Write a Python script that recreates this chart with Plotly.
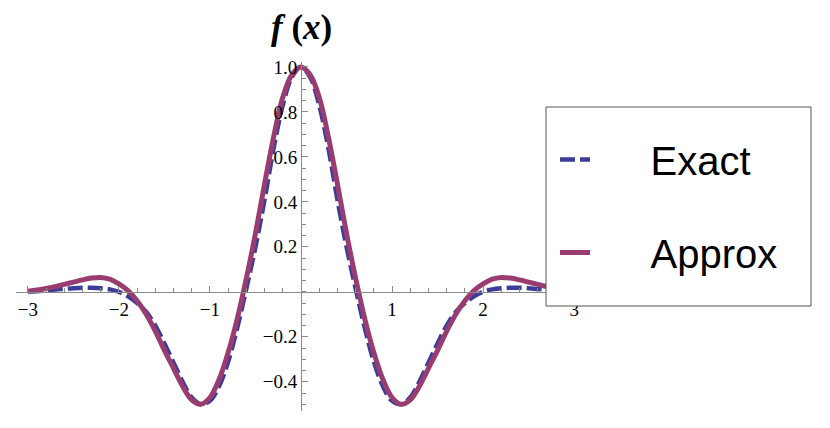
import plotly.graph_objects as go

# sample points
x_vals = [round(-3 + 0.1 * i, 1) for i in range(61)]

exact_right = [1.0, 0.955, 0.83, 0.64, 0.41, 0.20, 0.015, -0.16, -0.31, -0.42,
               -0.485, -0.5, -0.47, -0.40, -0.315, -0.23, -0.15, -0.09, -0.05, -0.02,
               0.0, 0.011, 0.016, 0.018, 0.018, 0.016, 0.013, 0.01, 0.006, 0.003, 0.001]
approx_right = [1.0, 0.965, 0.865, 0.69, 0.48, 0.26, 0.06, -0.12, -0.27, -0.39,
                -0.47, -0.5, -0.48, -0.42, -0.34, -0.26, -0.175, -0.10, -0.04, 0.005,
                0.035, 0.056, 0.064, 0.061, 0.053, 0.043, 0.033, 0.023, 0.015, 0.008, 0.003]

exact_vals = exact_right[:0:-1] + exact_right
approx_vals = approx_right[:0:-1] + approx_right

x_ticks = [-3, -2, -1, 1, 2, 3]
y_ticks = [-0.4, -0.2, 0.2, 0.4, 0.6, 0.8, 1.0]

# the page body adds an 8px margin around the figure
OFF = 8
W, H = 830 - OFF, 428 - OFF
# plot area in screen pixels: x 16..586, y 62..411
L, R, T, B = 16 - OFF, 830 - 586, 62 - OFF, 428 - 411
x_range = [-3.13, 3.13]
y_range = [-0.53, 1.022]


def paper_x(px):
    return (px - OFF - L) / (W - L - R)


def paper_y(py):
    return 1 - (py - OFF - T) / (H - T - B)


pad = '\u00a0' * 5

fig = go.Figure()
fig.add_trace(go.Scatter(
    x=x_vals, y=exact_vals, mode='lines', name=pad + 'Exact',
    line=dict(color='#3d3d99', width=4.5, dash='15px,5px', shape='spline'),
    legendgroup='a'
))
fig.add_trace(go.Scatter(
    x=x_vals, y=approx_vals, mode='lines', name=pad + 'Approx',
    line=dict(color='#993d70', width=5, shape='spline'),
    legendgroup='b'
))

serif = 'Liberation Serif, Times New Roman, serif'
axis_font = dict(family=serif, size=19, color='black')
fig.update_layout(
    width=W, height=H,
    font=dict(family=serif, color='black'),
    margin=dict(l=L, r=R, t=T, b=B, autoexpand=False),
    plot_bgcolor='white', paper_bgcolor='white',
    xaxis=dict(
        range=x_range, anchor='free',
        position=(0 - y_range[0]) / (y_range[1] - y_range[0]),
        showgrid=False, zeroline=False, showline=True,
        linecolor='#8a8a8a', linewidth=1,
        ticks='inside', ticklen=6, tickcolor='#8a8a8a',
        tickvals=x_ticks, ticktext=[str(v).replace('-', '\u2212') for v in x_ticks],
        tickfont=axis_font,
        minor=dict(dtick=0.2, ticks='inside', ticklen=3.5, tickcolor='#8a8a8a', showgrid=False)
    ),
    yaxis=dict(
        range=y_range, anchor='free',
        position=(0 - x_range[0]) / (x_range[1] - x_range[0]),
        showgrid=False, zeroline=False, showline=True,
        linecolor='#8a8a8a', linewidth=1,
        ticks='inside', ticklen=6, tickcolor='#8a8a8a',
        tickvals=y_ticks, ticktext=[f'{v:.1f}'.replace('-', '\u2212') for v in y_ticks],
        tickfont=axis_font,
        minor=dict(dtick=0.05, ticks='inside', ticklen=3.5, tickcolor='#8a8a8a', showgrid=False)
    ),
    legend=dict(
        x=paper_x(555), y=paper_y(127), xanchor='left', yanchor='top',
        bgcolor='rgba(0,0,0,0)', borderwidth=0,
        font=dict(family='Liberation Sans, Arial, sans-serif', size=40, color='black'),
        tracegroupgap=38, traceorder='grouped'
    ),
    showlegend=True,
)

# legend frame drawn over the curves
fig.add_shape(
    type='rect', xref='paper', yref='paper', layer='above',
    x0=paper_x(546), x1=paper_x(811), y0=paper_y(306), y1=paper_y(107),
    fillcolor='white', line=dict(color='#555555', width=1)
)

fig.add_annotation(
    x=0, xref='x', y=paper_y(28), yref='paper', showarrow=False,
    text='<b><i>f</i> (<i>x</i>)</b>',
    font=dict(family=serif, size=35, color='black'),
    yanchor='middle'
)

fig.write_html("out.html")
